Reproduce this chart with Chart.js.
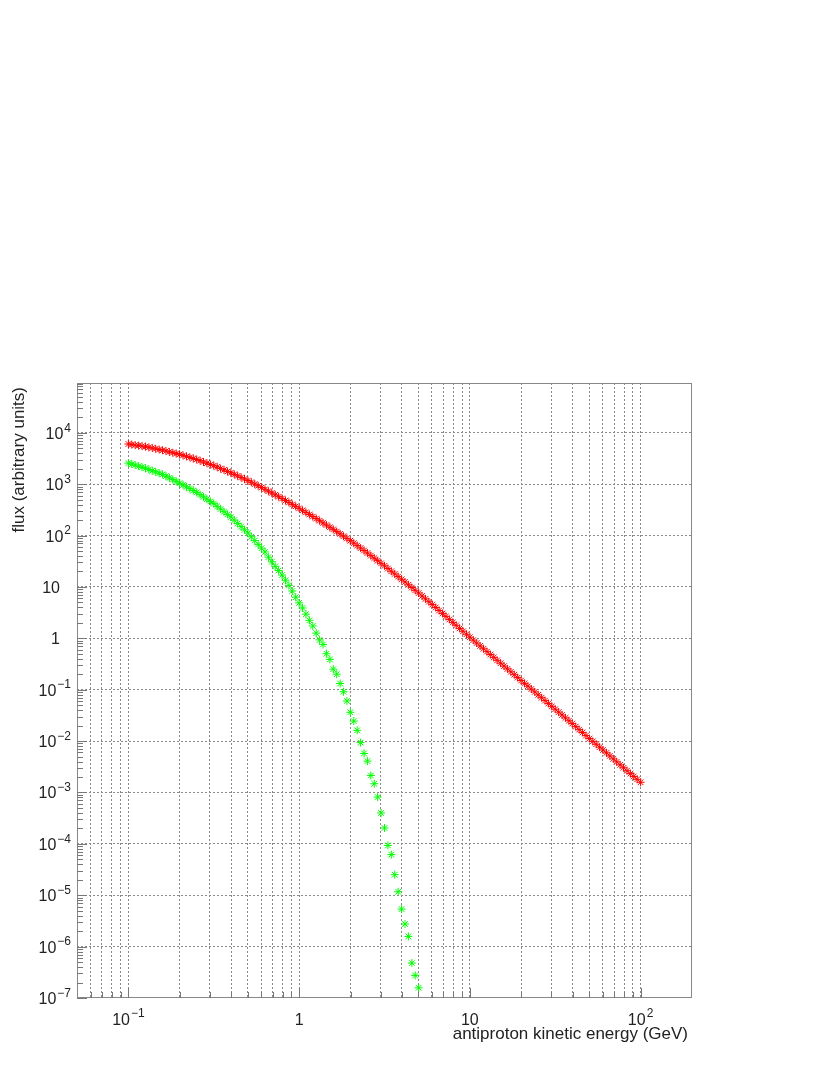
<!DOCTYPE html>
<html>
<head>
<meta charset="utf-8">
<script src="https://cdn.jsdelivr.net/npm/chart.js@4.4.1/dist/chart.umd.min.js"></script>
<style>
  html, body { margin: 0; padding: 0; background: #fff; }
  canvas { display: block; }
</style>
</head>
<body>
<canvas id="fluxChart" width="830" height="1075"></canvas>
<script>
// antiproton kinetic energy (GeV), 50 points per decade
const energy = [
  0.1, 0.1047, 0.1096, 0.1148, 0.1202, 0.1259, 0.1318, 0.138, 0.1445, 0.1514,
  0.1585, 0.166, 0.1738, 0.182, 0.1905, 0.1995, 0.2089, 0.2188, 0.2291, 0.2399,
  0.2512, 0.263, 0.2754, 0.2884, 0.302, 0.3162, 0.3311, 0.3467, 0.3631, 0.3802,
  0.3981, 0.4169, 0.4365, 0.4571, 0.4786, 0.5012, 0.5248, 0.5495, 0.5754, 0.6026,
  0.631, 0.6607, 0.6918, 0.7244, 0.7586, 0.7943, 0.8318, 0.871, 0.912, 0.955,
  1, 1.047, 1.096, 1.148, 1.202, 1.259, 1.318, 1.38, 1.445, 1.514,
  1.585, 1.66, 1.738, 1.82, 1.905, 1.995, 2.089, 2.188, 2.291, 2.399,
  2.512, 2.63, 2.754, 2.884, 3.02, 3.162, 3.311, 3.467, 3.631, 3.802,
  3.981, 4.169, 4.365, 4.571, 4.786, 5.012, 5.248, 5.495, 5.754, 6.026,
  6.31, 6.607, 6.918, 7.244, 7.586, 7.943, 8.318, 8.71, 9.12, 9.55,
  10, 10.47, 10.96, 11.48, 12.02, 12.59, 13.18, 13.8, 14.45, 15.14,
  15.85, 16.6, 17.38, 18.2, 19.05, 19.95, 20.89, 21.88, 22.91, 23.99,
  25.12, 26.3, 27.54, 28.84, 30.2, 31.62, 33.11, 34.67, 36.31, 38.02,
  39.81, 41.69, 43.65, 45.71, 47.86, 50.12, 52.48, 54.95, 57.54, 60.26,
  63.1, 66.07, 69.18, 72.44, 75.86, 79.43, 83.18, 87.1, 91.2, 95.5,
  100
];

// red series (flux, arbitrary units)
const fluxRed = [
  6030, 5890, 5750, 5620, 5500, 5370, 5200, 5040, 4880, 4720,
  4570, 4410, 4250, 4090, 3940, 3800, 3630, 3470, 3310, 3160,
  3020, 2860, 2700, 2560, 2420, 2290, 2150, 2010, 1890, 1770,
  1660, 1550, 1450, 1350, 1260, 1175, 1090, 1005, 929, 859,
  794, 731, 673, 619, 570, 525, 481, 441, 404, 370,
  339, 309, 282, 257, 234, 214, 194, 176, 160, 145,
  132, 119, 108, 97.3, 87.9, 79.4, 71.1, 63.7, 57.0, 51.1,
  45.7, 40.7, 36.3, 32.4, 28.8, 25.7, 22.8, 20.2, 17.9, 15.9,
  14.1, 12.5, 11.0, 9.73, 8.59, 7.59, 6.67, 5.86, 5.15, 4.53,
  3.98, 3.48, 3.05, 2.67, 2.33, 2.04, 1.79, 1.56, 1.37, 1.20,
  1.05, 0.920, 0.809, 0.711, 0.625, 0.550, 0.483, 0.425, 0.373, 0.328,
  0.288, 0.254, 0.223, 0.196, 0.172, 0.151, 0.133, 0.117, 0.103, 0.0904,
  0.0794, 0.0698, 0.0614, 0.0540, 0.0474, 0.0417, 0.0366, 0.0322, 0.0283, 0.0249,
  0.0219, 0.0191, 0.0167, 0.0147, 0.0128, 0.0112, 0.00986, 0.00867, 0.00762, 0.00670,
  0.00589, 0.00515, 0.00451, 0.00394, 0.00345, 0.00302, 0.00265, 0.00233, 0.00205, 0.00180,
  0.00158
];

// green series (flux, arbitrary units), same energies up to ~5 GeV
const fluxGreen = [
  2570, 2455, 2344, 2239, 2138, 2042, 1932, 1828, 1730, 1637,
  1549, 1432, 1324, 1225, 1132, 1047, 964, 887, 817, 752,
  692, 625, 565, 511, 461, 417, 370, 328, 291, 258,
  229, 199, 172, 149, 129, 112, 94.6, 79.8, 67.3, 56.8,
  47.9, 38.0, 30.9, 25.1, 20.9, 17.0, 13.5, 10.7, 8.32, 6.31,
  4.90, 3.89, 2.95, 2.24, 1.74, 1.26, 0.933, 0.759, 0.501, 0.389,
  0.251, 0.200, 0.132, 0.0912, 0.0603, 0.0363, 0.0245, 0.0162, 0.00933, 0.00575,
  0.00407, 0.00214, 0.00148, 8.13e-4, 3.98e-4, 2.04e-4, 9.33e-5, 6.17e-5, 2.51e-5, 1.17e-5,
  5.37e-6, 2.75e-6, 1.58e-6, 4.79e-7, 2.75e-7, 1.58e-7
];

const xGridValues = [
  0.06, 0.07, 0.08, 0.09,
  0.1, 0.2, 0.3, 0.4, 0.5, 0.6, 0.7, 0.8, 0.9,
  1, 2, 3, 4, 5, 6, 7, 8, 9,
  10, 20, 30, 40, 50, 60, 70, 80, 90,
  100
];
const yGridValues = [1e4, 1e3, 1e2, 10, 1, 1e-1, 1e-2, 1e-3, 1e-4, 1e-5, 1e-6];

const xTickValues = [0.1, 1, 10, 100];
const xTickLabels = ["10^-1", "1", "10", "10^2"];
const yTickValues = [1e4, 1e3, 1e2, 10, 1, 1e-1, 1e-2, 1e-3, 1e-4, 1e-5, 1e-6, 1e-7];
const yTickLabels = ["10^4", "10^3", "10^2", "10", "1", "10^-1", "10^-2", "10^-3", "10^-4", "10^-5", "10^-6", "10^-7"];

const xTitle = "antiproton kinetic energy (GeV)";
const yTitle = "flux (arbitrary units)";

const FONT = '"Liberation Sans", Arial, sans-serif';
const TEXT = "#222";
const FRAME = "#888";

function drawPower(ctx, text, x, y, align, size) {
  const parts = text.split("^");
  const base = parts[0];
  const exp = parts[1] ? parts[1].replace("-", "\u2212") : "";
  const supSize = Math.round(size * 0.75);
  ctx.font = size + "px " + FONT;
  const bw = ctx.measureText(base).width;
  let ew = 0;
  if (exp) {
    ctx.font = supSize + "px " + FONT;
    ew = ctx.measureText(exp).width + 1;
  }
  const total = bw + ew;
  const start = align === "center" ? x - total / 2 : align === "right" ? x - total : x;
  ctx.textAlign = "left";
  ctx.textBaseline = "alphabetic";
  ctx.font = size + "px " + FONT;
  ctx.fillText(base, start, y);
  if (exp) {
    ctx.font = supSize + "px " + FONT;
    ctx.fillText(exp, start + bw + 1, y - size * 0.45);
  }
}

const axisDecor = {
  id: "axisDecor",
  afterDraw(chart) {
    const { ctx, chartArea: a, scales: { x, y } } = chart;
    ctx.save();

    // frame
    ctx.strokeStyle = FRAME;
    ctx.lineWidth = 1;
    ctx.strokeRect(Math.round(a.left) + 0.5, Math.round(a.top) + 0.5,
      Math.round(a.width) - 1, Math.round(a.height) - 1);

    // tick marks, pointing into the frame
    ctx.strokeStyle = "#777";
    ctx.beginPath();
    xGridValues.forEach(v => {
      const px = Math.round(x.getPixelForValue(v)) + 0.5;
      const len = xTickValues.includes(v) ? 10 : 6;
      ctx.moveTo(px, a.bottom);
      ctx.lineTo(px, a.bottom - len);
    });
    yTickValues.forEach(d => {
      for (let k = 1; k <= 9; k++) {
        const v = k * d;
        if (v > y.max || v < y.min) continue;
        const py = Math.round(y.getPixelForValue(v)) + 0.5;
        const len = k === 1 ? 10 : 6;
        ctx.moveTo(a.left, py);
        ctx.lineTo(a.left + len, py);
      }
    });
    ctx.stroke();

    // tick labels
    ctx.fillStyle = TEXT;
    xTickValues.forEach((v, i) => {
      drawPower(ctx, xTickLabels[i], x.getPixelForValue(v), a.bottom + 26.5, "center", 16);
    });
    yTickValues.forEach((v, i) => {
      const lab = yTickLabels[i];
      const right = lab.includes("^") ? a.left - 6 : a.left - 17;
      drawPower(ctx, lab, right, y.getPixelForValue(v) + 6, "right", 16);
    });

    // axis titles
    ctx.font = "17px " + FONT;
    ctx.textAlign = "right";
    ctx.textBaseline = "alphabetic";
    ctx.fillText(xTitle, a.right - 4, a.bottom + 41);

    ctx.translate(24, a.top + 4);
    ctx.rotate(-Math.PI / 2);
    ctx.textAlign = "right";
    ctx.fillText(yTitle, 0, 0);

    ctx.restore();
  }
};

new Chart(document.getElementById("fluxChart"), {
  type: "scatter",
  data: {
    datasets: [
      {
        label: "red",
        data: energy.map((e, i) => ({ x: e, y: fluxRed[i] })),
        pointStyle: "star",
        pointRadius: 4,
        pointBorderWidth: 1,
        pointBorderColor: "#ff0000",
        pointBackgroundColor: "#ff0000",
        showLine: false
      },
      {
        label: "green",
        data: fluxGreen.map((f, i) => ({ x: energy[i], y: f })),
        pointStyle: "star",
        pointRadius: 4,
        pointBorderWidth: 1,
        pointBorderColor: "#00ff00",
        pointBackgroundColor: "#00ff00",
        showLine: false
      }
    ]
  },
  options: {
    responsive: false,
    animation: false,
    devicePixelRatio: 1,
    layout: { padding: { left: 77, top: 383, right: 138, bottom: 77 } },
    plugins: {
      legend: { display: false },
      tooltip: { enabled: false }
    },
    scales: {
      x: {
        type: "logarithmic",
        min: 0.05,
        max: 200,
        afterBuildTicks: s => { s.ticks = xGridValues.map(v => ({ value: v })); },
        ticks: { display: false },
        grid: { color: "#8a8a8a", lineWidth: 1, drawTicks: false },
        border: { display: false, dash: [2, 2] }
      },
      y: {
        type: "logarithmic",
        min: 1e-7,
        max: 9.3e4,
        afterBuildTicks: s => { s.ticks = yGridValues.map(v => ({ value: v })); },
        ticks: { display: false },
        grid: { color: "#8a8a8a", lineWidth: 1, drawTicks: false },
        border: { display: false, dash: [2, 2] }
      }
    }
  },
  plugins: [axisDecor]
});
</script>
</body>
</html>
